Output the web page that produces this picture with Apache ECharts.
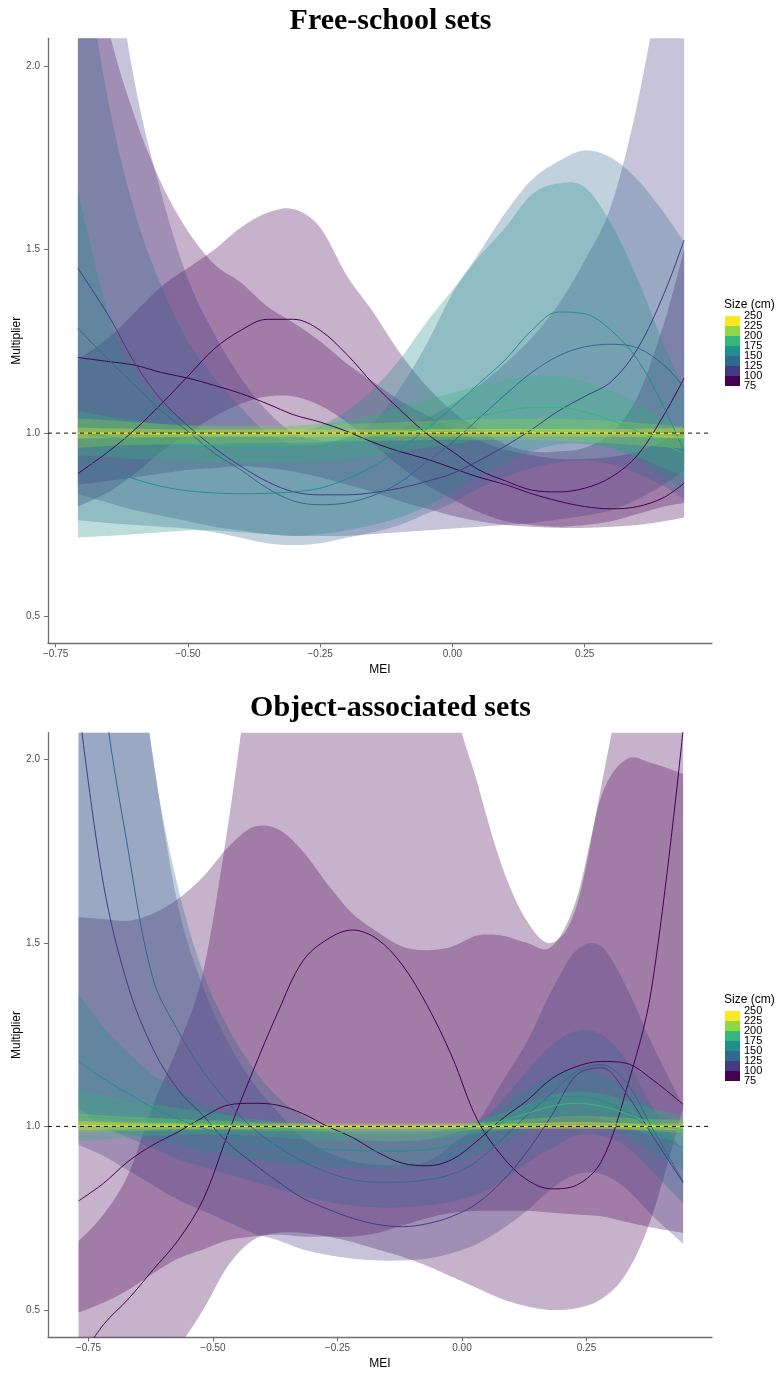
<!DOCTYPE html>
<html><head><meta charset="utf-8">
<script src="https://cdn.jsdelivr.net/npm/echarts/dist/echarts.min.js"></script>
<style>html,body{margin:0;padding:0;background:#fff}#c{width:781px;height:1373px}</style>
</head><body><div id="c"></div>
<script>
// ---------- shared ----------
const SIZES = [75,100,125,150,175,200,225,250];
const SIZE_COLORS = ['#440154','#440154','#443A83','#31688E','#21908C','#35B779','#8FD744','#FDE725'];
const LEGEND_COLORS = ['#FDE725','#8FD744','#35B779','#21908C','#31688E','#443A83','#440154'];
const LEGEND_LABELS = ['250','225','200','175','150','125','100','75'];
const X_TICKS = [-0.75,-0.5,-0.25,0,0.25];
const Y_TICKS = [0.5,1.0,1.5,2.0];
const TITLES = ['Free-school sets','Object-associated sets'];

// ---------- panel 1 : Free-school sets ----------
const FS_X = [-0.708,-0.65,-0.6,-0.55,-0.5,-0.45,-0.4,-0.35,-0.3,-0.25,-0.2,-0.15,-0.1,-0.05,0,0.05,0.1,0.15,0.2,0.25,0.3,0.35,0.4,0.438];
const FS_MEAN_75 = [0.89,0.95,1.01,1.08,1.155,1.23,1.28,1.31,1.31,1.28,1.215,1.135,1.065,1.0,0.95,0.9,0.87,0.845,0.84,0.85,0.88,0.94,1.05,1.15];
const FS_LO_75 = [0.80,0.84,0.89,0.95,1.0,1.045,1.08,1.10,1.10,1.075,1.03,0.97,0.91,0.86,0.82,0.785,0.76,0.75,0.745,0.75,0.76,0.78,0.80,0.81];
const FS_HI_75 = [1.2,1.26,1.33,1.40,1.45,1.50,1.56,1.60,1.61,1.56,1.43,1.33,1.22,1.13,1.06,1.01,0.97,0.95,0.95,0.96,1.0,1.1,1.3,1.5];
const FS_MEAN_100 = [1.206,1.195,1.185,1.165,1.15,1.13,1.108,1.08,1.05,1.03,1.005,0.975,0.95,0.93,0.905,0.88,0.86,0.835,0.815,0.80,0.794,0.80,0.825,0.864];
const FS_LO_100 = [0.86,0.87,0.88,0.89,0.90,0.905,0.91,0.905,0.895,0.88,0.86,0.84,0.815,0.795,0.775,0.76,0.75,0.745,0.742,0.742,0.745,0.75,0.76,0.77];
const FS_HI_100 = [2.5,2.1,1.86,1.68,1.55,1.46,1.41,1.345,1.30,1.25,1.19,1.14,1.09,1.05,1.01,0.98,0.955,0.94,0.93,0.93,0.935,0.95,0.98,1.02];
const FS_MEAN_125 = [1.449,1.32,1.19,1.09,1.02,0.96,0.91,0.868,0.84,0.832,0.832,0.838,0.85,0.868,0.89,0.925,0.965,1.01,1.06,1.1,1.14,1.23,1.38,1.526];
const FS_LO_125 = [0.835,0.81,0.79,0.775,0.76,0.745,0.735,0.725,0.72,0.72,0.72,0.725,0.73,0.735,0.74,0.745,0.75,0.755,0.765,0.775,0.79,0.82,0.86,0.9];
const FS_HI_125 = [3.0,2.4,1.95,1.65,1.42,1.27,1.15,1.06,1.0,0.98,0.98,0.99,1.01,1.04,1.08,1.13,1.19,1.26,1.35,1.47,1.62,1.9,2.3,2.7];
const FS_MEAN_150 = [1.285,1.2,1.13,1.06,1.005,0.945,0.9,0.85,0.815,0.805,0.81,0.83,0.865,0.92,0.975,1.04,1.105,1.165,1.21,1.235,1.242,1.232,1.185,1.125];
const FS_LO_150 = [0.763,0.755,0.75,0.745,0.74,0.73,0.715,0.70,0.695,0.70,0.715,0.73,0.75,0.78,0.81,0.85,0.88,0.905,0.92,0.925,0.915,0.89,0.855,0.82];
const FS_HI_150 = [2.4,1.9,1.6,1.4,1.25,1.15,1.07,1.0,0.97,0.97,0.99,1.03,1.12,1.24,1.38,1.49,1.6,1.69,1.74,1.77,1.75,1.69,1.6,1.52];
const FS_MEAN_175 = [0.935,0.90,0.875,0.855,0.843,0.837,0.835,0.836,0.84,0.85,0.875,0.91,0.955,1.01,1.07,1.135,1.2,1.28,1.33,1.325,1.28,1.2,1.07,0.95];
const FS_LO_175 = [0.716,0.72,0.725,0.73,0.735,0.735,0.73,0.725,0.72,0.725,0.735,0.75,0.77,0.8,0.84,0.88,0.92,0.95,0.97,0.97,0.96,0.93,0.88,0.85];
const FS_HI_175 = [1.66,1.32,1.17,1.08,1.03,1.0,0.99,0.99,1.0,1.02,1.06,1.12,1.2,1.3,1.39,1.48,1.56,1.65,1.68,1.67,1.57,1.42,1.24,1.12];
const FS_MEAN_200 = [1.003,0.99,0.982,0.975,0.971,0.968,0.967,0.967,0.969,0.973,0.981,0.99,1.0,1.015,1.03,1.045,1.06,1.07,1.07,1.058,1.035,1.005,0.97,0.944];
const FS_LO_200 = [0.94,0.935,0.93,0.93,0.925,0.922,0.92,0.92,0.922,0.925,0.93,0.94,0.95,0.96,0.97,0.98,0.985,0.99,0.99,0.98,0.96,0.935,0.905,0.88];
const FS_HI_200 = [1.06,1.045,1.035,1.025,1.02,1.015,1.015,1.015,1.02,1.025,1.035,1.05,1.07,1.09,1.11,1.13,1.145,1.155,1.155,1.14,1.115,1.08,1.04,1.01];
const FS_MEAN_225 = [1.0,1.0,0.998,0.996,0.995,0.995,0.995,0.995,0.996,0.998,1.0,1.002,1.004,1.006,1.008,1.009,1.01,1.01,1.009,1.006,1.002,0.997,0.992,0.988];
const FS_LO_225 = [0.96,0.965,0.968,0.969,0.97,0.971,0.972,0.972,0.973,0.975,0.977,0.979,0.98,0.981,0.982,0.982,0.982,0.981,0.979,0.976,0.972,0.967,0.962,0.958];
const FS_HI_225 = [1.04,1.035,1.03,1.025,1.022,1.02,1.02,1.02,1.021,1.023,1.025,1.027,1.03,1.033,1.036,1.038,1.04,1.04,1.04,1.037,1.033,1.028,1.022,1.018];
const FS_MEAN_250 = [1.0,1.0,1.0,0.999,0.999,0.999,0.999,0.999,0.999,1.0,1.0,1.0,1.0,1.001,1.001,1.001,1.001,1.001,1.001,1.001,1.0,1.0,0.999,0.999];
const FS_LO_250 = [0.985,0.987,0.988,0.989,0.99,0.99,0.99,0.99,0.99,0.99,0.991,0.991,0.991,0.991,0.991,0.991,0.991,0.991,0.991,0.99,0.99,0.989,0.987,0.985];
const FS_HI_250 = [1.015,1.013,1.012,1.011,1.01,1.01,1.01,1.01,1.01,1.01,1.01,1.01,1.01,1.011,1.011,1.011,1.011,1.011,1.011,1.011,1.011,1.012,1.013,1.014];

// ---------- panel 2 : Object-associated sets ----------
const OA_X = [-0.77,-0.72,-0.67,-0.62,-0.57,-0.52,-0.47,-0.42,-0.37,-0.32,-0.27,-0.22,-0.17,-0.12,-0.07,-0.02,0.03,0.08,0.13,0.18,0.23,0.28,0.33,0.38,0.444];
const OA_MEAN_75 = [0.36,0.46,0.53,0.61,0.69,0.80,0.98,1.15,1.31,1.45,1.51,1.535,1.51,1.44,1.33,1.19,1.02,0.92,0.855,0.83,0.84,0.905,1.1,1.37,2.08];
const OA_LO_75 = [0.2,0.25,0.3,0.34,0.4,0.5,0.62,0.69,0.71,0.71,0.70,0.685,0.665,0.645,0.62,0.59,0.56,0.53,0.51,0.50,0.505,0.53,0.6,0.75,1.05];
const OA_HI_75 = [0.687,0.76,0.87,1.06,1.22,1.42,1.82,2.3,2.7,3.0,3.1,3.1,3.1,3.0,2.8,2.2,1.94,1.71,1.56,1.50,1.60,1.93,2.3,2.8,3.2];
const OA_MEAN_100 = [0.797,0.845,0.905,0.95,0.985,1.025,1.058,1.063,1.058,1.035,1.0,0.97,0.93,0.9,0.893,0.91,0.96,1.02,1.07,1.13,1.163,1.177,1.172,1.13,1.06];
const OA_LO_100 = [0.493,0.52,0.555,0.6,0.64,0.665,0.69,0.70,0.705,0.70,0.70,0.70,0.71,0.73,0.75,0.765,0.77,0.77,0.77,0.765,0.76,0.755,0.74,0.725,0.71];
const OA_HI_100 = [1.57,1.565,1.56,1.58,1.62,1.68,1.76,1.815,1.81,1.75,1.66,1.58,1.53,1.49,1.48,1.49,1.52,1.52,1.5,1.49,1.62,1.9,2.0,1.99,1.96];
const OA_MEAN_125 = [2.15,1.66,1.38,1.21,1.1,1.03,0.955,0.9,0.85,0.805,0.775,0.75,0.733,0.727,0.735,0.755,0.79,0.85,0.93,1.03,1.14,1.16,1.09,0.98,0.847];
const OA_LO_125 = [0.95,0.92,0.88,0.84,0.8,0.77,0.74,0.71,0.69,0.665,0.65,0.64,0.635,0.635,0.64,0.655,0.68,0.72,0.77,0.83,0.87,0.87,0.83,0.76,0.68];
const OA_HI_125 = [4.0,3.1,2.5,2.0,1.6,1.38,1.23,1.12,1.04,0.97,0.93,0.905,0.895,0.895,0.905,0.95,1.01,1.12,1.23,1.37,1.48,1.49,1.38,1.23,1.055];
const OA_MEAN_150 = [3.2,2.2,1.75,1.40,1.26,1.15,1.065,0.995,0.945,0.905,0.875,0.855,0.848,0.848,0.855,0.87,0.905,0.965,1.03,1.09,1.15,1.168,1.12,1.0,0.85];
const OA_LO_150 = [1.05,1.0,0.97,0.94,0.91,0.89,0.87,0.85,0.83,0.81,0.795,0.785,0.78,0.78,0.785,0.795,0.815,0.85,0.9,0.94,0.975,0.975,0.945,0.88,0.79];
const OA_HI_150 = [5.0,3.5,2.6,2.0,1.65,1.42,1.27,1.16,1.08,1.03,0.99,0.97,0.96,0.96,0.965,0.98,1.01,1.07,1.15,1.22,1.26,1.25,1.18,1.06,0.93];
const OA_MEAN_175 = [1.178,1.13,1.09,1.05,1.02,0.995,0.975,0.96,0.952,0.944,0.938,0.935,0.933,0.933,0.937,0.95,0.975,1.01,1.05,1.075,1.082,1.07,1.04,0.99,0.942];
const OA_LO_175 = [1.0,0.99,0.98,0.965,0.95,0.935,0.92,0.91,0.9,0.895,0.89,0.887,0.885,0.885,0.89,0.9,0.925,0.955,0.985,1.005,1.01,1.0,0.975,0.93,0.88];
const OA_HI_175 = [1.36,1.27,1.2,1.14,1.1,1.06,1.035,1.015,1.0,0.99,0.985,0.98,0.978,0.978,0.982,0.992,1.01,1.05,1.1,1.14,1.155,1.14,1.1,1.05,1.0];
const OA_MEAN_200 = [1.026,1.024,1.02,1.017,1.014,1.01,1.006,1.0,0.996,0.99,0.986,0.983,0.982,0.982,0.985,0.99,1.0,1.015,1.035,1.055,1.063,1.055,1.035,1.01,0.99];
const OA_LO_200 = [0.96,0.965,0.97,0.975,0.978,0.978,0.978,0.975,0.97,0.965,0.962,0.96,0.96,0.96,0.962,0.97,0.98,0.99,1.005,1.02,1.025,1.02,1.0,0.975,0.955];
const OA_HI_200 = [1.1,1.085,1.07,1.06,1.05,1.04,1.03,1.02,1.015,1.01,1.005,1.0,1.0,1.0,1.0,1.005,1.015,1.035,1.06,1.085,1.095,1.09,1.07,1.05,1.03];
const OA_MEAN_225 = [1.01,1.008,1.006,1.005,1.004,1.003,1.002,1.0,0.999,0.998,0.997,0.996,0.996,0.996,0.997,0.998,1.0,1.003,1.006,1.009,1.01,1.009,1.006,1.003,1.0];
const OA_LO_225 = [0.985,0.986,0.987,0.988,0.989,0.99,0.99,0.989,0.988,0.988,0.987,0.986,0.986,0.986,0.987,0.988,0.99,0.992,0.994,0.995,0.995,0.994,0.991,0.987,0.983];
const OA_HI_225 = [1.035,1.03,1.026,1.023,1.02,1.017,1.015,1.012,1.01,1.008,1.007,1.006,1.006,1.006,1.007,1.008,1.011,1.015,1.02,1.025,1.028,1.027,1.023,1.02,1.018];
const OA_MEAN_250 = [1.002,1.002,1.001,1.001,1.001,1.0,1.0,1.0,1.0,1.0,1.0,1.0,1.0,1.0,1.0,1.0,1.0,1.0,1.0,1.001,1.001,1.001,1.0,1.0,1.0];
const OA_LO_250 = [0.99,0.991,0.992,0.992,0.993,0.993,0.993,0.993,0.993,0.993,0.993,0.993,0.993,0.993,0.993,0.993,0.993,0.993,0.993,0.993,0.993,0.993,0.992,0.991,0.99];
const OA_HI_250 = [1.014,1.013,1.011,1.01,1.009,1.008,1.008,1.007,1.007,1.007,1.007,1.007,1.007,1.007,1.007,1.007,1.007,1.008,1.008,1.009,1.009,1.009,1.008,1.008,1.008];

// ---------- assemble ----------
const PANELS = [
  { x: FS_X, xmin: -0.7645, xmax: 0.4907, ymin: 0.4276, ymax: 2.0754,
    means: [FS_MEAN_75,FS_MEAN_100,FS_MEAN_125,FS_MEAN_150,FS_MEAN_175,FS_MEAN_200,FS_MEAN_225,FS_MEAN_250],
    los:   [FS_LO_75,FS_LO_100,FS_LO_125,FS_LO_150,FS_LO_175,FS_LO_200,FS_LO_225,FS_LO_250],
    his:   [FS_HI_75,FS_HI_100,FS_HI_125,FS_HI_150,FS_HI_175,FS_HI_200,FS_HI_225,FS_HI_250] },
  { x: OA_X, xmin: -0.8313, xmax: 0.502, ymin: 0.4256, ymax: 2.0725,
    means: [OA_MEAN_75,OA_MEAN_100,OA_MEAN_125,OA_MEAN_150,OA_MEAN_175,OA_MEAN_200,OA_MEAN_225,OA_MEAN_250],
    los:   [OA_LO_75,OA_LO_100,OA_LO_125,OA_LO_150,OA_LO_175,OA_LO_200,OA_LO_225,OA_LO_250],
    his:   [OA_HI_75,OA_HI_100,OA_HI_125,OA_HI_150,OA_HI_175,OA_HI_200,OA_HI_225,OA_HI_250] }
];
const GRIDS = [{left:48, top:38.3, width:664, height:605}, {left:48, top:732.7, width:664, height:604.6}];
const LEGEND_TOP = [316, 1011];
const TITLE_TOP = [1, 688];

function rgba(hex, a) {
  const n = parseInt(hex.slice(1), 16);
  return 'rgba(' + ((n>>16)&255) + ',' + ((n>>8)&255) + ',' + (n&255) + ',' + a + ')';
}
// Catmull-Rom smoothing of pixel points (render-time only)
function smoothPts(p) {
  const out = [p[0]];
  for (let i = 0; i < p.length - 1; i++) {
    const p0 = p[Math.max(i-1,0)], p1 = p[i], p2 = p[i+1], p3 = p[Math.min(i+2,p.length-1)];
    const c1 = [p1[0] + (p2[0]-p0[0])/6, p1[1] + (p2[1]-p0[1])/6];
    const c2 = [p2[0] - (p3[0]-p1[0])/6, p2[1] - (p3[1]-p1[1])/6];
    for (let k = 1; k <= 12; k++) {
      const t = k/12, u = 1-t;
      out.push([u*u*u*p1[0] + 3*u*u*t*c1[0] + 3*u*t*t*c2[0] + t*t*t*p2[0],
                u*u*u*p1[1] + 3*u*u*t*c1[1] + 3*u*t*t*c2[1] + t*t*t*p2[1]]);
    }
  }
  return out;
}
function ribbonSeries(gi, xs, lo, hi, color) {
  return {
    type: 'custom', xAxisIndex: gi, yAxisIndex: gi, clip: true, silent: true, z: 1,
    data: [[0, 1]],
    renderItem: function (params, api) {
      const up = smoothPts(xs.map((x,i) => api.coord([x, hi[i]])));
      const dn = smoothPts(xs.map((x,i) => api.coord([x, lo[i]])).reverse());
      return { type: 'polygon', shape: { points: up.concat(dn) }, style: { fill: rgba(color, 0.3) } };
    }
  };
}

const FONT = '"Liberation Sans", Arial, Helvetica, sans-serif';
const series = [], xAxes = [], yAxes = [], grids = [], titles = [], graphics = [];
PANELS.forEach((P, gi) => {
  const G = GRIDS[gi];
  grids.push(Object.assign({containLabel:false}, G));
  xAxes.push({
    gridIndex: gi, type: 'value', min: P.xmin, max: P.xmax,
    name: 'MEI', nameLocation: 'middle', nameGap: 20,
    nameTextStyle: { color: '#000', fontSize: 12, fontFamily: FONT },
    axisLine: { show: true, onZero: false, lineStyle: { color: '#6e6e6e', width: 1.3 } },
    axisTick: { show: true, length: 4, customValues: X_TICKS, lineStyle: { color: '#6e6e6e', width: 1 } },
    axisLabel: { customValues: X_TICKS, margin: 6, color: '#4d4d4d', fontSize: 10, fontFamily: FONT,
      formatter: v => (v < 0 ? '\u2212' : '') + Math.abs(v).toFixed(2) },
    splitLine: { show: false }
  });
  yAxes.push({
    gridIndex: gi, type: 'value', min: P.ymin, max: P.ymax,
    axisLine: { show: true, onZero: false, lineStyle: { color: '#6e6e6e', width: 1.3 } },
    axisTick: { show: true, length: 4, customValues: Y_TICKS, lineStyle: { color: '#6e6e6e', width: 1 } },
    axisLabel: { customValues: Y_TICKS, margin: 8, color: '#4d4d4d', fontSize: 10, fontFamily: FONT,
      formatter: v => v.toFixed(1) },
    splitLine: { show: false }
  });
  SIZES.forEach((s, k) => series.push(ribbonSeries(gi, P.x, P.los[k], P.his[k], SIZE_COLORS[k])));
  SIZES.forEach((s, k) => series.push({
    type: 'line', name: String(s), xAxisIndex: gi, yAxisIndex: gi, z: 3, silent: true,
    data: P.x.map((x,i) => [x, P.means[k][i]]), smooth: 0.35, showSymbol: false, symbol: 'none',
    lineStyle: { color: SIZE_COLORS[k], width: 1 }, clip: true
  }));
  series.push({
    type: 'line', xAxisIndex: gi, yAxisIndex: gi, z: 4, silent: true, symbol: 'none',
    data: [[P.xmin, 1], [P.xmax, 1]], lineStyle: { color: '#111', width: 1, type: [4, 4] }
  });
  titles.push({ text: TITLES[gi], left: 'center', top: TITLE_TOP[gi], padding: 5,
    textStyle: { fontFamily: '"Liberation Serif", "Times New Roman", serif', fontWeight: 'bold', fontSize: 30, color: '#000' } });
  // y-axis title
  graphics.push({ type: 'text', x: 17, y: G.top + G.height / 2, rotation: Math.PI / 2,
    style: { text: 'Multiplier', font: '12px ' + FONT, fill: '#000', align: 'center', verticalAlign: 'middle' } });
  const lt = LEGEND_TOP[gi];
  graphics.push({ type: 'text', x: 724, y: lt - 11, style: { text: 'Size (cm)', font: '12px ' + FONT, fill: '#000', verticalAlign: 'middle' } });
  LEGEND_COLORS.forEach((c, i) => graphics.push({ type: 'rect', shape: { x: 725, y: lt + 10*i, width: 15, height: 10 }, style: { fill: c } }));
  LEGEND_LABELS.forEach((l, i) => graphics.push({ type: 'text', x: 744, y: lt + 10*i, style: { text: l, font: '11px ' + FONT, fill: '#000', verticalAlign: 'middle' } }));
});

const chart = echarts.init(document.getElementById('c'), null, { renderer: 'canvas' });
chart.setOption({
  backgroundColor: '#fff', animation: false,
  title: titles, grid: grids, xAxis: xAxes, yAxis: yAxes, series: series, graphic: graphics
});
</script></body></html>
